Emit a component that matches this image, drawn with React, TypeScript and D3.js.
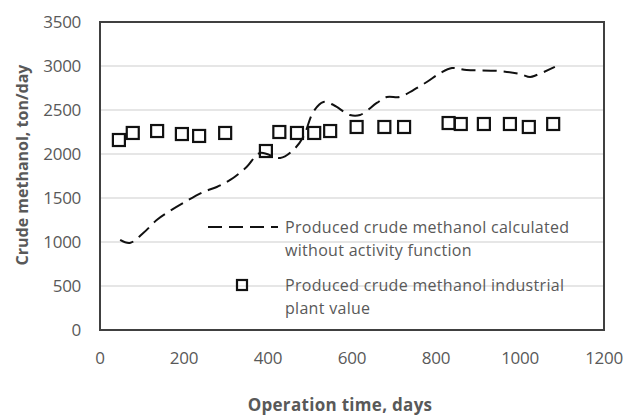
import React from "react";
import * as d3 from "d3";

const lineDays = [48, 71, 103, 135, 159, 198, 246, 278, 310, 349, 381, 429, 460, 484, 508, 532, 556, 595, 619, 659, 683, 714, 746, 778, 810, 838, 873, 952, 1000, 1024, 1040, 1083];
const lineValues = [1023, 989, 1102, 1250, 1330, 1443, 1568, 1625, 1705, 1852, 2011, 1955, 2045, 2193, 2480, 2591, 2557, 2443, 2443, 2580, 2648, 2648, 2727, 2818, 2920, 2977, 2955, 2943, 2909, 2875, 2898, 2989];

const plantDays = [45, 78, 136, 195, 236, 298, 395, 427, 469, 510, 548, 611, 677, 724, 830, 859, 914, 976, 1021, 1079];
const plantValues = [2159, 2239, 2261, 2227, 2205, 2239, 2034, 2250, 2239, 2239, 2261, 2307, 2307, 2307, 2352, 2341, 2341, 2341, 2307, 2341];

const xTicks = [0, 200, 400, 600, 800, 1000, 1200];
const yTicks = [0, 500, 1000, 1500, 2000, 2500, 3000, 3500];

const seriesNames = [
  ["Produced crude methanol calculated", "without activity function"],
  ["Produced crude methanol industrial", "plant value"],
];

export default function App() {
  const W = 638, H = 416;
  const left = 100, right = 604, top = 22, bottom = 330;
  const x = d3.scaleLinear().domain([0, 1200]).range([left, right]);
  const y = d3.scaleLinear().domain([0, 3500]).range([bottom, top]);
  const line = d3.line<number>().x((_, i) => x(lineDays[i])).y((d) => y(d)).curve(d3.curveCatmullRom);
  const font = "'Open Sans', sans-serif";
  const gray = "#595959";
  const sq = 12;
  return (
    <svg width={W} height={H} style={{ position: "absolute", left: 0, top: 0, background: "#fff" }}>
      {yTicks.filter((t) => t > 0 && t < 3500).map((t) => (
        <line key={t} x1={left} x2={right} y1={y(t)} y2={y(t)} stroke="#e6e6e6" strokeWidth={2} />
      ))}
      <rect x={left} y={top} width={right - left} height={bottom - top} fill="none" stroke="#404040" strokeWidth={2} />
      {yTicks.map((t) => (
        <text key={t} x={left - 19} y={y(t)} dy="0.35em" textAnchor="end" fontFamily={font} fontSize={17} letterSpacing={-0.3} fill={gray}>{t}</text>
      ))}
      {xTicks.map((t) => (
        <text key={t} x={x(t)} y={358} dy="0.35em" textAnchor="middle" fontFamily={font} fontSize={17} letterSpacing={-0.3} fill={gray}>{t}</text>
      ))}
      <text transform={`translate(22,${165}) rotate(-90)`} textAnchor="middle" dy="0.35em" fontFamily={font} fontSize={16} fontWeight="bold" fill={gray}>Crude methanol, ton/day</text>
      <text x={340} y={405} textAnchor="middle" dy="0.35em" fontFamily={font} fontSize={17} letterSpacing={0.3} fontWeight="bold" fill={gray}>Operation time, days</text>
      <path d={line(lineValues) || ""} fill="none" stroke="#111" strokeWidth={2} strokeDasharray="14,7" />
      {plantDays.map((d, i) => (
        <rect key={i} x={x(d) - sq / 2} y={y(plantValues[i]) - sq / 2} width={sq} height={sq} fill="none" stroke="#111" strokeWidth={2.2} />
      ))}
      {/* legend */}
      <line x1={208} x2={278} y1={227} y2={227} stroke="#111" strokeWidth={2} strokeDasharray="14,7" />
      <rect x={242 - 5} y={285 - 5} width={10} height={10} fill="none" stroke="#111" strokeWidth={2.2} />
      {seriesNames.map((lines, si) =>
        lines.map((s, li) => (
          <text key={`${si}-${li}`} x={285} y={(si === 0 ? 227 : 285) + li * 23} dy="0.35em" fontFamily={font} fontSize={16} letterSpacing={0.3} fill={gray}>{s}</text>
        ))
      )}
    </svg>
  );
}
